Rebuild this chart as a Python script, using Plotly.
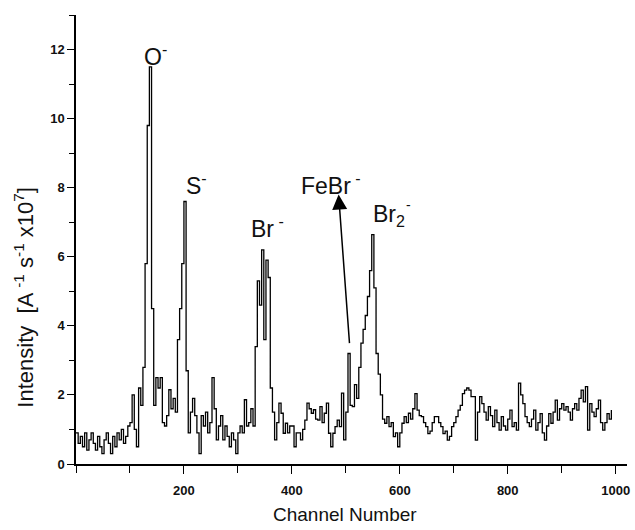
import plotly.graph_objects as go

# channel numbers (4-channel bins) and intensity values
channels = list(range(0, 996, 4))
intensity = [
    0.9, 0.6, 0.8, 0.5, 0.9, 0.4, 0.7, 0.9, 0.6, 0.4,
    0.8, 0.5, 0.3, 0.7, 0.9, 0.6, 0.3, 0.8, 0.5, 0.9,
    0.7, 1.0, 0.6, 0.8, 1.1, 1.2, 2.0, 1.0, 0.5, 2.2,
    1.7, 2.8, 5.8, 9.8, 11.5, 4.5, 1.7, 2.5, 2.2, 2.5,
    1.2, 1.1, 1.4, 2.15, 1.6, 1.9, 1.5, 3.6, 4.5, 5.8,
    7.6, 2.7, 0.9, 1.5, 1.9, 1.4, 0.9, 0.3, 1.4, 1.1,
    1.5, 0.9, 1.2, 2.5, 1.6, 0.7, 1.1, 1.4, 0.7, 1.1,
    0.8, 0.5, 0.9, 0.7, 0.3, 0.9, 1.1, 0.9, 1.86, 1.1,
    1.2, 1.6, 1.1, 3.4, 5.3, 4.6, 6.2, 3.6, 5.9, 5.4,
    2.2, 1.5, 0.7, 1.2, 1.76, 1.47, 0.89, 1.18, 0.9, 1.1,
    1.1, 0.5, 0.9, 0.9, 0.7, 1.0, 1.27, 1.76, 1.6, 1.47,
    1.57, 1.3, 1.27, 1.66, 1.2, 1.47, 1.76, 0.89, 0.5, 0.89,
    1.08, 1.27, 1.08, 2.05, 0.7, 1.5, 3.2, 1.7, 1.66, 2.3,
    1.9, 2.8, 3.5, 3.9, 4.3, 4.85, 5.6, 6.64, 5.1, 3.2,
    2.6, 2.0, 1.3, 1.18, 1.37, 1.08, 1.2, 0.79, 0.9, 0.5,
    0.9, 1.18, 1.37, 1.2, 1.47, 1.3, 1.6, 2.04, 1.56, 1.4,
    1.37, 1.2, 1.08, 0.88, 0.95, 1.2, 1.37, 1.37, 1.2, 1.08,
    0.88, 0.95, 0.69, 0.8, 1.08, 1.2, 1.37, 1.56, 1.7, 2.04,
    2.14, 2.2, 2.14, 1.95, 1.95, 0.69, 1.5, 1.95, 1.75, 1.5,
    1.27, 1.66, 1.4, 1.08, 1.56, 1.2, 0.98, 1.37, 1.1, 0.98,
    1.3, 1.56, 1.08, 1.2, 0.98, 2.34, 2.0, 1.75, 1.37, 1.2,
    1.08, 1.3, 1.56, 0.98, 1.2, 1.46, 0.9, 0.69, 1.1, 1.46,
    1.18, 1.5, 1.85, 1.27, 1.6, 1.75, 1.56, 1.66, 1.5, 1.27,
    1.6, 1.75, 1.56, 1.9, 2.14, 1.8, 2.24, 0.98, 1.75, 1.5,
    1.37, 1.6, 1.85, 1.2, 0.98, 1.2, 1.46, 1.3, 1.56,
]

x_ticks = [200, 400, 600, 800, 1000]
y_ticks = [0, 2, 4, 6, 8, 10, 12]

# peak labels: (text, channel, intensity)
peak_labels = [
    ("O<sup>-</sup>", 123, 11.85),
    ("S<sup>-</sup>", 201, 8.1),
    ("Br<sup> -</sup>", 321, 6.86),
    ("FeBr<sup> -</sup>", 413, 8.1),
    ("Br<sub>2</sub>", 547, 7.2),
]

FONT = "Arial, Liberation Sans, sans-serif"

fig = go.Figure()
fig.add_trace(go.Scatter(
    x=channels, y=intensity, mode="lines", line_shape="hv",
    line=dict(color="black", width=1.3), showlegend=False,
))

for text, cx, cy in peak_labels:
    fig.add_annotation(x=cx, y=cy, xref="x", yref="y", text=text,
                       showarrow=False, xanchor="left", yanchor="middle",
                       font=dict(family=FONT, size=23, color="#111"))
# superscript minus next to the subscript 2 of Br2
fig.add_annotation(x=607, y=7.5, xref="x", yref="y", text="-",
                   showarrow=False, xanchor="left", yanchor="middle",
                   font=dict(family=FONT, size=14, color="#111"))

# arrow pointing to FeBr-
fig.add_annotation(x=486.6, y=7.8, xref="x", yref="y", text="",
                   showarrow=True, arrowhead=2, arrowsize=2, arrowwidth=1.5,
                   arrowcolor="black", ax=11, ay=150, standoff=0)

# axis titles
fig.add_annotation(x=0.489, y=-0.113, xref="paper", yref="paper",
                   text="Channel Number", showarrow=False,
                   xanchor="center", yanchor="middle",
                   font=dict(family=FONT, size=19, color="#111"))
fig.add_annotation(x=-0.095, y=0.372, xref="paper", yref="paper",
                   text="Intensity  [A <sup>-1</sup> s<sup>-1</sup> x10<sup>7</sup>]",
                   textangle=-90, showarrow=False,
                   xanchor="center", yanchor="middle",
                   font=dict(family=FONT, size=22, color="#111"))

fig.update_layout(
    width=635, height=530,
    margin=dict(l=76, r=5, t=15, b=66),
    paper_bgcolor="white", plot_bgcolor="white",
)
fig.update_xaxes(
    range=[0, 1021], tickvals=x_ticks, ticks="outside", ticklen=8,
    tickwidth=1.2, tickcolor="black", showline=True, linecolor="black",
    linewidth=1.5, showgrid=False, zeroline=False, ticklabelstandoff=6,
    tickfont=dict(family=FONT, size=13, color="#111", weight="bold"),
    minor=dict(dtick=100, tick0=0, ticks="outside", ticklen=7,
               tickcolor="black", tickwidth=1.2),
)
fig.update_yaxes(
    range=[0, 13], tickvals=y_ticks, ticks="outside", ticklen=7,
    tickwidth=1.2, tickcolor="black", showline=True, linecolor="black",
    linewidth=1.5, showgrid=False, zeroline=False,
    tickfont=dict(family=FONT, size=13, color="#111", weight="bold"),
    minor=dict(dtick=1, tick0=0, ticks="outside", ticklen=5,
               tickcolor="black", tickwidth=1.2),
)

fig.write_html("out.html",
               config={"displayModeBar": False},
               post_script="document.body.style.margin='0';")
